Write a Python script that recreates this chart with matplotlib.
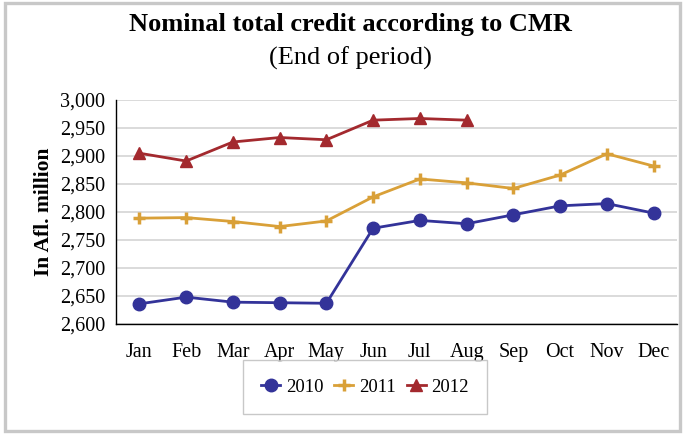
import matplotlib
matplotlib.use("Agg")
import matplotlib.pyplot as plt
from matplotlib.patches import Rectangle

months = ["Jan", "Feb", "Mar", "Apr", "May", "Jun", "Jul", "Aug", "Sep", "Oct", "Nov", "Dec"]
credit_2010 = [2636, 2648, 2639, 2638, 2637, 2771, 2785, 2779, 2795, 2811, 2815, 2798]
credit_2011 = [2789, 2790, 2783, 2774, 2784, 2827, 2859, 2852, 2842, 2866, 2904, 2882]
credit_2012 = [2905, 2891, 2925, 2933, 2929, 2964, 2967, 2964]
yticks = [2600, 2650, 2700, 2750, 2800, 2850, 2900, 2950, 3000]

plt.rcParams['font.family'] = ['Liberation Serif', 'DejaVu Serif']

fig = plt.figure(figsize=(6.84, 4.34), dpi=100)
fig.patches.append(Rectangle((0.008, 0.006), 0.986, 0.988, transform=fig.transFigure,
                             fill=False, edgecolor='#c8c8c8', linewidth=2.4))

ax = fig.add_axes([116/684, 1-324/434, (677-116)/684, (324-100)/434])
x = list(range(len(months)))
ax.plot(x, credit_2010, color='#333399', linewidth=2.0, marker='o', markersize=9, label='2010')
ax.plot(x, credit_2011, color='#D9A038', linewidth=2.0, marker='+', markersize=9,
        markeredgewidth=2.5, label='2011')
ax.plot(x[:len(credit_2012)], credit_2012, color='#A3292E', linewidth=2.0, marker='^',
        markersize=8, label='2012')

ax.set_xlim(-0.5, 11.5)
ax.set_ylim(2600, 3000)
ax.set_yticks(yticks)
ax.set_yticklabels([f"{v:,}" for v in yticks], fontsize=14.5)
ax.set_xticks(x)
ax.set_xticklabels(months, fontsize=14.5)
ax.tick_params(axis='both', length=0)
ax.tick_params(axis='y', pad=8)
ax.tick_params(axis='x', pad=14)
ax.grid(axis='y', color='#d4d4d4', linewidth=1.2)
ax.set_axisbelow(True)
for s in ['top', 'right']:
    ax.spines[s].set_visible(False)
ax.spines['left'].set_color('black')
ax.spines['bottom'].set_color('black')
ax.spines['left'].set_linewidth(1.0)
ax.spines['bottom'].set_linewidth(1.0)
ax.set_ylabel("In Afl. million", fontsize=15.5, fontweight='bold', labelpad=4)

fig.text(350/684, 1-25/434, "Nominal total credit according to CMR", ha='center', va='center',
         fontsize=19, fontweight='bold')
fig.text(350/684, 1-58/434, "(End of period)", ha='center', va='center', fontsize=19)

leg = fig.legend(loc='center', bbox_to_anchor=(365/684, 1-387/434), ncol=3, fontsize=13.5,
                 frameon=True, fancybox=False, edgecolor='#bbbbbb', handlelength=1.0,
                 handletextpad=0.3, columnspacing=0.6, borderpad=1.0)
leg.get_frame().set_linewidth(1.0)

fig.savefig("out.png", dpi=100)
